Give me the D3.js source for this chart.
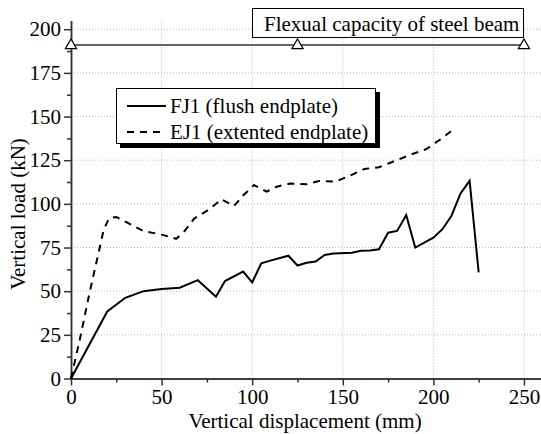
<!DOCTYPE html>
<html>
<head>
<meta charset="utf-8">
<title>Vertical load vs displacement</title>
<script src="https://cdn.jsdelivr.net/npm/d3@7"></script>
<style>
    body { margin: 0; background: #fff; }
    .grid line { stroke: #b8b8b8; stroke-width: 1; stroke-dasharray: 1,2; }
</style>
</head>
<body>
<div id="chart"></div>
<script>
// FJ1 (flush endplate)
var fj1X = [0, 20, 30, 40, 50, 60, 70, 80, 85, 95, 100, 105, 110, 120, 125, 130, 135, 140, 145, 155, 160, 165, 170, 175, 180, 185, 190, 200, 205, 210, 215, 220, 225];
var fj1Y = [0, 38.4, 46.2, 50, 51.3, 52, 56.3, 46.8, 55.8, 61.2, 55, 66, 67.5, 70.3, 64.7, 66.3, 67, 70.7, 71.6, 72, 73.2, 73.3, 74, 83.5, 84.5, 93.6, 75, 80.6, 85.5, 93.2, 106, 113.2, 60.8];

// EJ1 (extented endplate)
var ej1X = [0, 5, 10, 15, 18, 21, 25, 30, 40, 50, 58, 62, 68, 76, 83, 90, 95, 101, 108, 114, 121, 130, 137, 146, 154, 162, 170, 180, 188, 196, 204, 210];
var ej1Y = [0, 23, 48, 71, 85, 91.8, 92.5, 89.8, 84.4, 82.4, 80, 83.5, 91.6, 96.6, 102.6, 98.8, 104.8, 110.8, 107, 110, 111.6, 111.2, 113.1, 112.7, 116.2, 120, 121, 125.1, 128.4, 131.3, 137, 141.8];

// flexural capacity of steel beam
var capX = [0, 125, 250];
var capLoad = 191;

var xTicks = [0, 50, 100, 150, 200, 250];
var yTicks = [0, 25, 50, 75, 100, 125, 150, 175, 200];

var legendLabels = ["FJ1 (flush endplate)", "EJ1 (extented endplate)"];
var capLabel = "Flexual capacity of steel beam";

var FONT = "'Liberation Serif', 'Times New Roman', Times, serif";

var W = 541, H = 434;
var x0 = 71, x1 = 541, yb = 378.5, yt = 20.5;

var x = d3.scaleLinear().domain([0, 259.4]).range([x0, x1]);
var y = d3.scaleLinear().domain([0, 205]).range([yb, yt]);

var svg = d3.select("#chart").append("svg")
    .attr("width", W)
    .attr("height", H)
    .style("font-family", FONT);

// grid
var grid = svg.append("g").attr("class", "grid");
grid.selectAll(".gx")
    .data(xTicks.filter(function(d) { return d > 0; }))
    .enter().append("line")
    .attr("x1", function(d) { return x(d); })
    .attr("x2", function(d) { return x(d); })
    .attr("y1", yt)
    .attr("y2", yb);
grid.selectAll(".gy")
    .data(yTicks.filter(function(d) { return d > 0; }))
    .enter().append("line")
    .attr("x1", x0)
    .attr("x2", x1)
    .attr("y1", function(d) { return y(d); })
    .attr("y2", function(d) { return y(d); });

// axes
var xAxis = d3.axisBottom(x).tickValues(xTicks).tickSize(7).tickSizeOuter(0).tickPadding(4);
var xMinor = d3.axisBottom(x).tickValues([25, 75, 125, 175, 225]).tickSize(4).tickSizeOuter(0).tickFormat("");
var yAxis = d3.axisLeft(y).tickValues(yTicks).tickSize(7).tickSizeOuter(0).tickPadding(3);
var yMinor = d3.axisLeft(y).tickValues(d3.range(12.5, 200, 25)).tickSize(4).tickSizeOuter(0).tickFormat("");

function styleAxis(g) {
    g.attr("font-family", null);
    g.selectAll("path, line").attr("stroke", "#333").attr("stroke-width", 1.5);
    g.selectAll("text")
        .style("font-family", FONT)
        .style("font-size", "21px")
        .attr("fill", "#000");
}

svg.append("g").attr("transform", "translate(0," + yb + ")").call(xMinor).call(styleAxis);
svg.append("g").attr("transform", "translate(0," + yb + ")").call(xAxis).call(styleAxis);
svg.append("g").attr("transform", "translate(" + x0 + ",0)").call(yMinor).call(styleAxis);
svg.append("g").attr("transform", "translate(" + x0 + ",0)").call(yAxis).call(styleAxis);

function addText(sel) {
    return sel.append("text")
        .style("font-family", FONT)
        .style("font-size", "21px")
        .attr("fill", "#000");
}

// axis titles
addText(svg)
    .attr("x", 305)
    .attr("y", 428)
    .attr("text-anchor", "middle")
    .text("Vertical displacement (mm)");

addText(svg)
    .attr("transform", "translate(25,214) rotate(-90)")
    .attr("text-anchor", "middle")
    .text("Vertical load (kN)");

// capacity line
svg.append("line")
    .attr("x1", x(0))
    .attr("x2", x(250))
    .attr("y1", y(capLoad))
    .attr("y2", y(capLoad))
    .attr("stroke", "#333")
    .attr("stroke-width", 1.5);

svg.selectAll(".tri")
    .data(capX)
    .enter().append("path")
    .attr("d", d3.symbol().type(d3.symbolTriangle).size(55))
    .attr("transform", function(d) { return "translate(" + x(d) + "," + (y(capLoad) + 0.5) + ")"; })
    .attr("fill", "#fff")
    .attr("stroke", "#000")
    .attr("stroke-width", 1.2);

// capacity label box
svg.append("rect")
    .attr("x", 252.5)
    .attr("y", 8.5)
    .attr("width", 271)
    .attr("height", 29)
    .attr("fill", "#fff")
    .attr("stroke", "#000")
    .attr("stroke-width", 1);
addText(svg)
    .attr("x", 264)
    .attr("y", 31)
    .text(capLabel);

// data lines
var line = d3.line()
    .x(function(d) { return x(d[0]); })
    .y(function(d) { return y(d[1]); });

svg.append("path")
    .datum(d3.zip(ej1X, ej1Y))
    .attr("fill", "none")
    .attr("stroke", "#000")
    .attr("stroke-width", 2)
    .attr("stroke-dasharray", "7,6")
    .attr("d", line);

svg.append("path")
    .datum(d3.zip(fj1X, fj1Y))
    .attr("fill", "none")
    .attr("stroke", "#000")
    .attr("stroke-width", 2)
    .attr("d", line);

// legend
var lg = svg.append("g");
lg.append("rect")
    .attr("x", 120).attr("y", 92)
    .attr("width", 260).attr("height", 56)
    .attr("fill", "#000");
lg.append("rect")
    .attr("x", 116.5).attr("y", 88.5)
    .attr("width", 259).attr("height", 55)
    .attr("fill", "#fff")
    .attr("stroke", "#000")
    .attr("stroke-width", 1);

legendLabels.forEach(function(lbl, i) {
    var ly = 106 + i * 26;
    lg.append("line")
        .attr("x1", 127).attr("x2", 166)
        .attr("y1", ly).attr("y2", ly)
        .attr("stroke", "#000")
        .attr("stroke-width", 2)
        .attr("stroke-dasharray", i === 0 ? null : "7,6");
    addText(lg)
        .attr("x", 170)
        .attr("y", ly + 7)
        .text(lbl);
});
</script>
</body>
</html>
